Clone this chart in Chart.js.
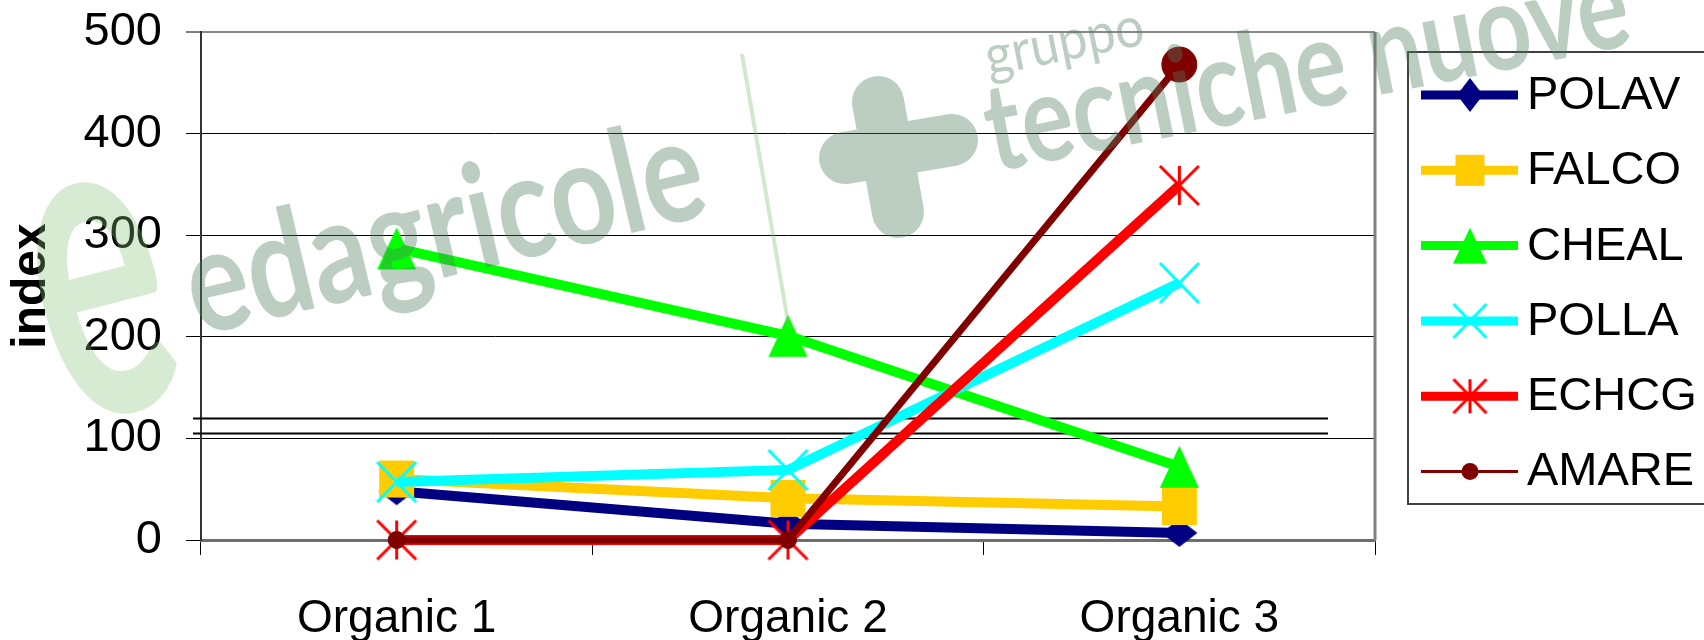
<!DOCTYPE html>
<html>
<head>
<meta charset="utf-8">
<script src="https://cdn.jsdelivr.net/npm/chart.js@4.4.0/dist/chart.umd.min.js"></script>
<style>
  html, body { margin: 0; padding: 0; background: #fff; }
</style>
</head>
<body>
<canvas id="lineChart" width="1704" height="640"></canvas>
<script>
// data
const categories = ['Organic 1', 'Organic 2', 'Organic 3'];
const seriesNames = ['POLAV', 'FALCO', 'CHEAL', 'POLLA', 'ECHCG', 'AMARE'];
const polav = [48, 16, 7];
const falco = [60, 41, 33];
const cheal = [287, 201, 72];
const polla = [57, 69, 253];
const echcg = [0, 0, 349];
const amare = [0, 0, 468];
const yTicks = [0, 100, 200, 300, 400, 500];
const breakLines = [120, 105]; // the two stray black lines just above 100

const FONT = '"Liberation Sans", Arial, sans-serif';

// small canvas markers, so the shapes match the Excel ones
function marker(type, w, h, color, lw) {
  const c = document.createElement('canvas');
  c.width = Math.ceil(w) + 4;
  c.height = Math.ceil(h) + 4;
  const g = c.getContext('2d');
  g.translate(c.width / 2, c.height / 2);
  g.fillStyle = color;
  g.strokeStyle = color;
  g.lineWidth = lw || 3;
  const hw = w / 2, hh = h / 2;
  g.beginPath();
  if (type === 'diamond') {
    g.moveTo(0, -hh); g.lineTo(hw, 0); g.lineTo(0, hh); g.lineTo(-hw, 0);
    g.closePath(); g.fill();
  } else if (type === 'square') {
    g.fillRect(-hw, -hh, w, h);
  } else if (type === 'triangle') {
    g.moveTo(0, -hh); g.lineTo(hw, hh); g.lineTo(-hw, hh);
    g.closePath(); g.fill();
  } else if (type === 'x') {
    g.moveTo(-hw, -hh); g.lineTo(hw, hh);
    g.moveTo(hw, -hh); g.lineTo(-hw, hh);
    g.stroke();
  } else if (type === 'star') {
    g.moveTo(-hw, -hh); g.lineTo(hw, hh);
    g.moveTo(hw, -hh); g.lineTo(-hw, hh);
    g.moveTo(0, -hh); g.lineTo(0, hh);
    g.stroke();
  }
  return c;
}

const colors = ['#000080', '#FFCC00', '#00FF00', '#00FFFF', '#FF0000', '#800000'];

const plotMarkers = [
  marker('diamond', 36, 28, colors[0]),
  marker('square', 35, 37, colors[1]),
  marker('triangle', 39, 42, colors[2]),
  marker('x', 39, 40, colors[3], 3),
  marker('star', 39, 39, colors[4], 3),
  'circle'
];
const legendMarkers = [
  marker('diamond', 26, 34, colors[0]),
  marker('square', 29, 31, colors[1]),
  marker('triangle', 34, 36, colors[2]),
  marker('x', 33, 34, colors[3], 3),
  marker('star', 33, 34, colors[4], 3),
  'circle'
];

const seriesValues = [polav, falco, cheal, polla, echcg, amare];

const datasets = seriesNames.map((name, i) => ({
  label: name,
  data: seriesValues[i],
  borderColor: colors[i],
  backgroundColor: colors[i],
  borderWidth: i === 5 ? 7 : 10,
  pointStyle: plotMarkers[i],
  pointRadius: i === 5 ? [8.5, 8.5, 17.5] : 20,
  pointBorderWidth: i === 5 ? 1 : 0,
  pointBorderColor: colors[i],
  pointBackgroundColor: colors[i],
  tension: 0,
  fill: false,
  clip: false,
  order: 5 - i // later series on top
}));

// plot frame + stray lines
const framePlugin = {
  id: 'frame',
  beforeDatasetsDraw(chart) {
    const { ctx, chartArea } = chart;
    const y = chart.scales.y;
    ctx.save();
    ctx.strokeStyle = '#000';
    ctx.lineWidth = 2;
    breakLines.forEach(v => {
      const py = Math.round(y.getPixelForValue(v)) + 0.5;
      ctx.beginPath();
      ctx.moveTo(chartArea.left - 8, py);
      ctx.lineTo(chartArea.right - 47, py);
      ctx.stroke();
    });
    ctx.strokeStyle = '#808080';
    ctx.lineWidth = 3;
    ctx.beginPath();
    ctx.moveTo(chartArea.right, chartArea.top);
    ctx.lineTo(chartArea.right, chartArea.bottom);
    ctx.stroke();
    ctx.restore();
  }
};

// legend drawn like the Excel one: line sample with marker, boxed
const legendPlugin = {
  id: 'boxLegend',
  afterDraw(chart) {
    const { ctx, chartArea } = chart;
    const left = chartArea.right + 33;
    ctx.save();
    ctx.fillStyle = '#fff';
    ctx.fillRect(left, 52, 320, 452);
    ctx.strokeStyle = '#404040';
    ctx.lineWidth = 2;
    ctx.strokeRect(left, 52, 320, 452);
    chart.data.datasets.forEach((ds, i) => {
      const y = 95 + i * 75.3;
      const cx = left + 62;
      ctx.strokeStyle = ds.borderColor;
      ctx.lineWidth = i === 5 ? 3 : 9;
      ctx.beginPath();
      ctx.moveTo(left + 13, y);
      ctx.lineTo(left + 110, y);
      ctx.stroke();
      const m = legendMarkers[i];
      if (m === 'circle') {
        ctx.fillStyle = ds.borderColor;
        ctx.beginPath();
        ctx.arc(cx, y, 8.5, 0, Math.PI * 2);
        ctx.fill();
      } else {
        ctx.drawImage(m, cx - m.width / 2, y - m.height / 2);
      }
      ctx.fillStyle = '#000';
      ctx.font = '47px ' + FONT;
      ctx.textBaseline = 'middle';
      ctx.textAlign = 'left';
      ctx.fillText(ds.label, left + 119, y + 1);
    });
    ctx.restore();
  }
};

// faint publisher watermark over everything
function wmText(ctx, text, font, x0, y0, x1, y1) {
  const ang = Math.atan2(y1 - y0, x1 - x0);
  const len = Math.hypot(x1 - x0, y1 - y0);
  ctx.save();
  ctx.translate(x0, y0);
  ctx.rotate(ang);
  ctx.font = font;
  const w = ctx.measureText(text).width;
  ctx.scale(len / w, 1);
  ctx.textBaseline = 'alphabetic';
  ctx.textAlign = 'left';
  ctx.fillText(text, 0, 0);
  ctx.restore();
}
function wmGlyph(ctx, text, font, cx, cy, w, h, rot) {
  ctx.save();
  ctx.translate(cx, cy);
  ctx.rotate(rot);
  ctx.font = font;
  const m = ctx.measureText(text);
  const gw = m.actualBoundingBoxLeft + m.actualBoundingBoxRight;
  const gh = m.actualBoundingBoxAscent + m.actualBoundingBoxDescent;
  ctx.scale(w / gw, h / gh);
  ctx.textBaseline = 'alphabetic';
  ctx.textAlign = 'left';
  ctx.fillText(text, -gw / 2 + m.actualBoundingBoxLeft, gh / 2 - m.actualBoundingBoxDescent);
  ctx.restore();
}
const watermarkPlugin = {
  id: 'watermark',
  afterDraw(chart) {
    const ctx = chart.ctx;
    ctx.save();
    // leaf-like "e" on the left
    ctx.fillStyle = 'rgba(130, 195, 115, 0.33)';
    wmGlyph(ctx, 'e', 'bold 300px Lato', 103, 298, 120, 245, -0.25);
    ctx.fillStyle = 'rgba(80, 125, 95, 0.38)';
    wmText(ctx, 'edagricole', 'bold 145px Lato', 198, 336, 712, 214);
    wmText(ctx, 'tecniche nuove', 'bold 122px Lato', 994, 172, 1635, 44);
    wmText(ctx, 'gruppo', '56px Lato', 989, 76, 1147, 44);
    // the rounded plus of the logo
    ctx.strokeStyle = 'rgba(80, 125, 95, 0.38)';
    ctx.lineCap = 'round';
    ctx.lineWidth = 52;
    ctx.beginPath();
    ctx.moveTo(878, 102);
    ctx.lineTo(898, 212);
    ctx.moveTo(845, 158);
    ctx.lineTo(952, 140);
    ctx.stroke();
    ctx.strokeStyle = 'rgba(120, 190, 110, 0.35)';
    ctx.lineCap = 'butt';
    ctx.lineWidth = 4;
    ctx.beginPath();
    ctx.moveTo(742, 54);
    ctx.lineTo(789, 328);
    ctx.stroke();
    ctx.restore();
  }
};

Chart.defaults.font.family = FONT;
Chart.defaults.color = '#000';

new Chart(document.getElementById('lineChart'), {
  type: 'line',
  data: { labels: categories, datasets },
  options: {
    responsive: false,
    animation: false,
    events: [],
    layout: { padding: { left: 4, top: 32, right: 329, bottom: 0 } },
    scales: {
      x: {
        offset: true,
        afterFit: s => { s.height = 100; },
        grid: {
          offset: true,
          drawOnChartArea: false,
          drawTicks: true,
          tickLength: 15,
          tickColor: '#000',
          tickWidth: 1
        },
        border: { display: true, color: '#6e6e6e', width: 3 },
        ticks: { font: { size: 46 }, padding: 37, color: '#000', maxRotation: 0 }
      },
      y: {
        min: 0,
        max: 500,
        afterFit: s => {
          s.width = 197;
          s.paddingTop = 0;
          s.paddingBottom = 0;
        },
        afterBuildTicks: s => { s.ticks = yTicks.map(v => ({ value: v })); },
        grid: {
          color: c => (c.tick && c.tick.value === 500 ? '#8a8a8a' : '#000'),
          lineWidth: c => (c.tick && c.tick.value === 500 ? 2 : 1),
          tickLength: 15,
          tickColor: '#000',
          tickWidth: 1
        },
        border: { display: true, color: '#333', width: 2 },
        ticks: { font: { size: 47 }, padding: 24, color: '#000' },
        title: {
          display: true,
          text: 'index',
          font: { size: 48, weight: 'bold', lineHeight: 1 },
          padding: { top: 4, bottom: 4 },
          color: '#000'
        }
      }
    },
    plugins: {
      legend: { display: false },
      tooltip: { enabled: false },
      title: { display: false }
    }
  },
  plugins: [framePlugin, legendPlugin, watermarkPlugin]
});
</script>
</body>
</html>
